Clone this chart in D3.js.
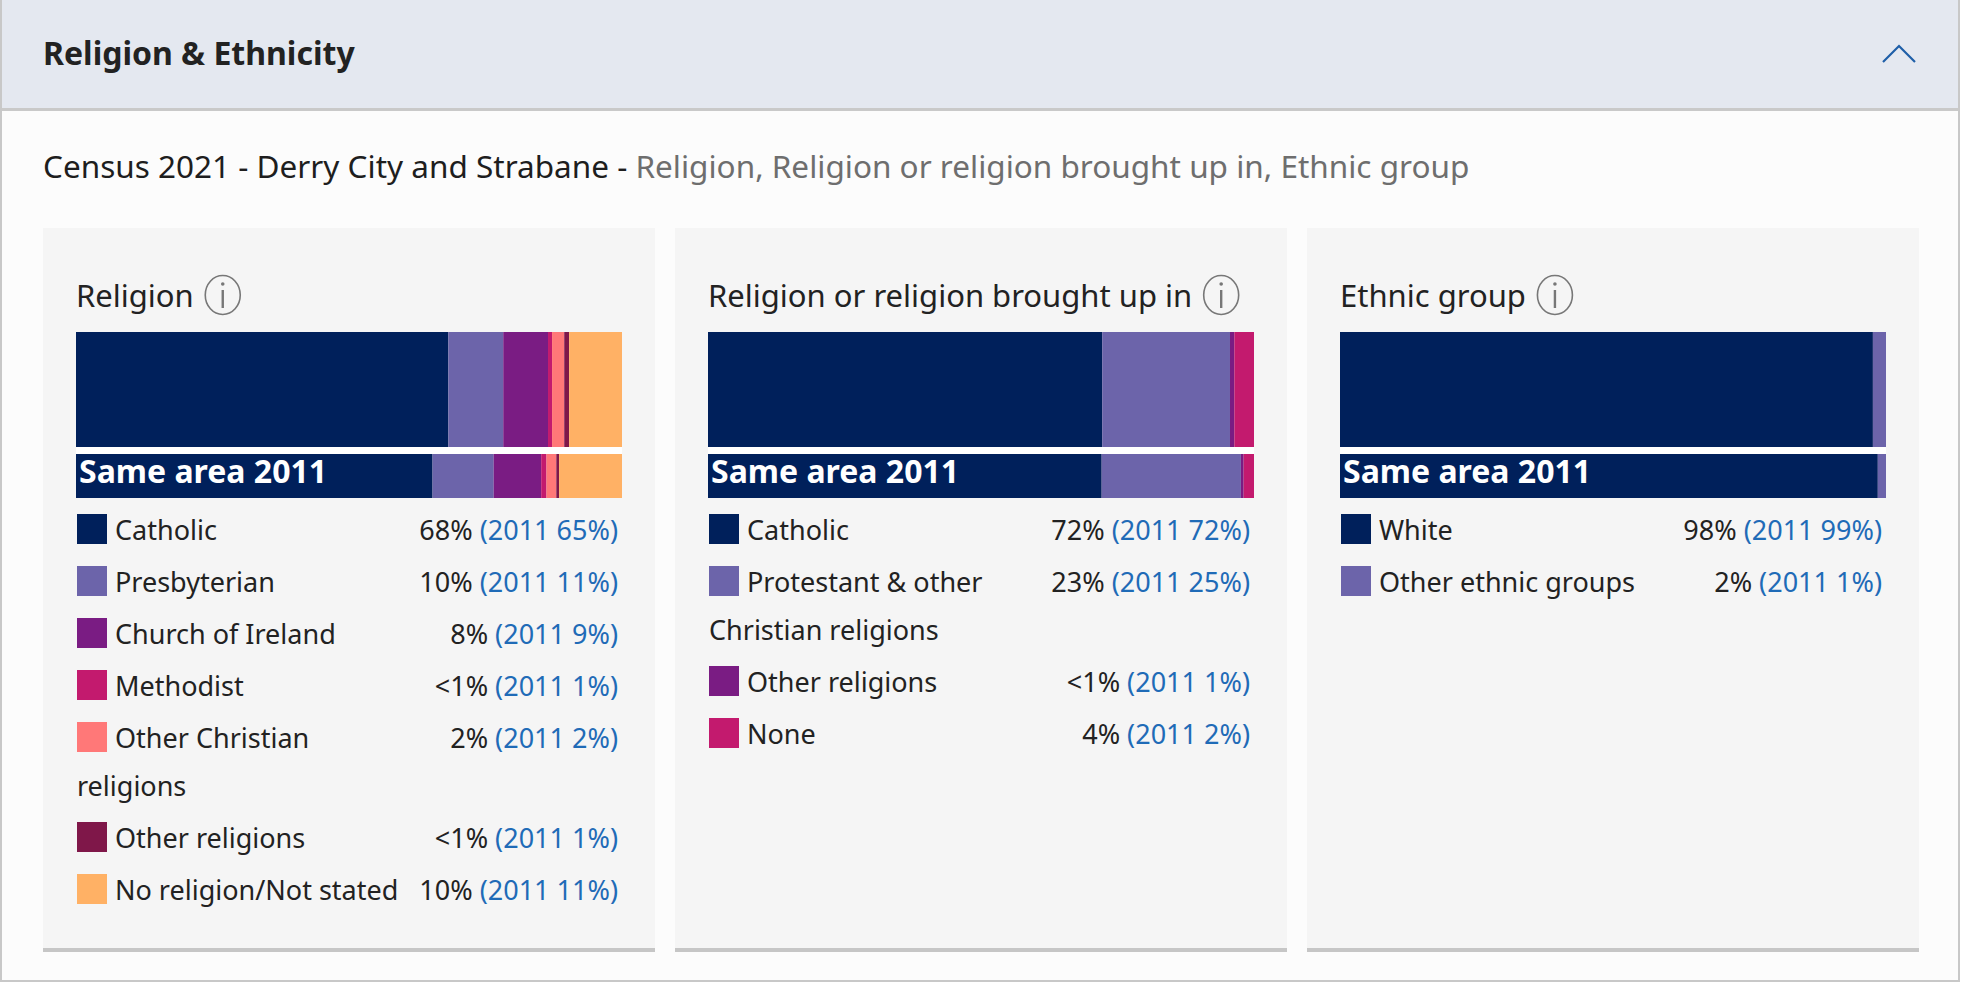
<!DOCTYPE html>
<html>
<head>
<meta charset="utf-8">
<script src="https://cdn.jsdelivr.net/npm/d3@7"></script>
<style>
  html, body { margin: 0; padding: 0; background: #ffffff; }
  svg { display: block; font-family: "Noto Sans", "Open Sans", sans-serif; }
</style>
</head>
<body>
<div id="chart"></div>
<script>
// ---- data ----
const sectionTitle = 'Religion & Ethnicity'
const subtitleMain = 'Census 2021 - Derry City and Strabane - '
const subtitleTopics = 'Religion, Religion or religion brought up in, Ethnic group'
const compareLabel = 'Same area 2011'

const panelTitles = ['Religion', 'Religion or religion brought up in', 'Ethnic group']

const religionCats = ['Catholic', 'Presbyterian', 'Church of Ireland', 'Methodist', 'Other Christian religions', 'Other religions', 'No religion/Not stated']
const religion2021 = [68.2, 10.05, 8.2, 0.74, 2.23, 0.89, 9.69]
const religion2011 = [65.3, 11.2, 8.7, 0.97, 1.8, 0.5, 11.53]
const religionText2021 = ['68%', '10%', '8%', '<1%', '2%', '<1%', '10%']
const religionText2011 = ['65%', '11%', '9%', '1%', '2%', '1%', '11%']

const broughtUpCats = ['Catholic', 'Protestant & other Christian religions', 'Other religions', 'None']
const broughtUp2021 = [72.2, 23.4, 0.8, 3.6]
const broughtUp2011 = [72.1, 25.5, 0.5, 1.9]
const broughtUpText2021 = ['72%', '23%', '<1%', '4%']
const broughtUpText2011 = ['72%', '25%', '1%', '2%']

const ethnicCats = ['White', 'Other ethnic groups']
const ethnic2021 = [97.6, 2.4]
const ethnic2011 = [98.5, 1.5]
const ethnicText2021 = ['98%', '2%']
const ethnicText2011 = ['99%', '1%']

const religionColors = ['#00205b', '#6c64aa', '#7a1c83', '#c31a6e', '#ff7878', '#7f1749', '#ffb165']
const broughtUpColors = ['#00205b', '#6c64aa', '#7a1c83', '#c31a6e']
const ethnicColors = ['#00205b', '#6c64aa']

// ---- layout ----
const config = {
  width: 1962,
  height: 982,
  headerH: 109,
  panelX: [43, 675, 1307],
  panelW: 612,
  panelTop: 228,
  panelBottom: 948,
  inset: 33,
  bar1Top: 332,
  bar1H: 115,
  bar2Top: 454,
  bar2H: 44,
  legendTop: 514,
  swatch: 30,
  rowStep: 52,
  lineStep: 48,
  fontSize: 27
}

const svg = d3.select('#chart')
  .append('svg')
  .attr('width', config.width)
  .attr('height', config.height)

// 外框和背景
svg.append('rect')
  .attr('x', 0).attr('y', 0)
  .attr('width', 1960).attr('height', 981)
  .attr('fill', '#fcfcfc')
svg.append('rect')
  .attr('x', 0).attr('y', 0)
  .attr('width', 1960).attr('height', config.headerH)
  .attr('fill', '#e4e8f0')
svg.append('rect')
  .attr('x', 0).attr('y', config.headerH - 1)
  .attr('width', 1960).attr('height', 3)
  .attr('fill', '#c9c9c9')
svg.append('path')
  .attr('d', 'M1,0 V981 H1959 V0')
  .attr('fill', 'none')
  .attr('stroke', '#c8c8c8')
  .attr('stroke-width', 2)

// 标题
svg.append('text')
  .attr('x', 43).attr('y', 65)
  .attr('font-size', 32)
  .attr('font-weight', 700)
  .attr('fill', '#222')
  .text(sectionTitle)

// 折叠箭头
svg.append('polyline')
  .attr('points', '1883,62 1899,46 1915,62')
  .attr('fill', 'none')
  .attr('stroke', '#1f5fa8')
  .attr('stroke-width', 2.2)

const sub = svg.append('text')
  .attr('x', 43).attr('y', 178)
  .attr('font-size', 31.5)
sub.append('tspan').attr('fill', '#1e1e1e').text(subtitleMain)
sub.append('tspan').attr('fill', '#6e6e6e').text(subtitleTopics)

const panels = [
  { title: panelTitles[0], cats: religionCats, now: religion2021, then: religion2011, nowText: religionText2021, thenText: religionText2011, colors: religionColors },
  { title: panelTitles[1], cats: broughtUpCats, now: broughtUp2021, then: broughtUp2011, nowText: broughtUpText2021, thenText: broughtUpText2011, colors: broughtUpColors },
  { title: panelTitles[2], cats: ethnicCats, now: ethnic2021, then: ethnic2011, nowText: ethnicText2021, thenText: ethnicText2011, colors: ethnicColors }
]

panels.forEach((p, i) => drawPanel(p, config.panelX[i]))

function drawPanel (p, px) {
  const g = svg.append('g')
  const left = px + config.inset
  const right = px + config.panelW - config.inset
  const x = d3.scaleLinear().domain([0, 100]).range([left, right])
  const color = d3.scaleOrdinal().domain(p.cats).range(p.colors)

  // 面板背景 + 底边
  g.append('rect')
    .attr('x', px).attr('y', config.panelTop)
    .attr('width', config.panelW).attr('height', config.panelBottom - config.panelTop)
    .attr('fill', '#f5f5f5')
  g.append('rect')
    .attr('x', px).attr('y', config.panelBottom)
    .attr('width', config.panelW).attr('height', 4)
    .attr('fill', '#c6c6c6')

  // 面板标题和信息图标
  const title = g.append('text')
    .attr('x', left).attr('y', 307)
    .attr('font-size', 31)
    .attr('fill', '#222')
    .text(p.title)
  const tEnd = left + title.node().getComputedTextLength()
  const cx = tEnd + 29
  g.append('ellipse')
    .attr('cx', cx).attr('cy', 295)
    .attr('rx', 17.5).attr('ry', 19.5)
    .attr('fill', 'none')
    .attr('stroke', '#777')
    .attr('stroke-width', 1.6)
  g.append('circle')
    .attr('cx', cx).attr('cy', 284)
    .attr('r', 1.8)
    .attr('fill', '#777')
  g.append('line')
    .attr('x1', cx).attr('x2', cx)
    .attr('y1', 290).attr('y2', 308)
    .attr('stroke', '#777')
    .attr('stroke-width', 2.4)

  // 堆叠条
  const stackRows = (vals) => {
    let acc = 0
    return vals.map((v, k) => {
      const d = { cat: p.cats[k], x0: acc, x1: acc + v }
      acc += v
      return d
    })
  }

  g.append('rect')
    .attr('x', x(0)).attr('y', config.bar1Top + config.bar1H)
    .attr('width', x(100) - x(0)).attr('height', config.bar2Top - config.bar1Top - config.bar1H)
    .attr('fill', '#ffffff')

  g.append('g').selectAll('rect')
    .data(stackRows(p.now))
    .join('rect')
    .attr('x', d => x(d.x0))
    .attr('width', d => x(d.x1) - x(d.x0))
    .attr('y', config.bar1Top)
    .attr('height', config.bar1H)
    .attr('fill', d => color(d.cat))

  g.append('g').selectAll('rect')
    .data(stackRows(p.then))
    .join('rect')
    .attr('x', d => x(d.x0))
    .attr('width', d => x(d.x1) - x(d.x0))
    .attr('y', config.bar2Top)
    .attr('height', config.bar2H)
    .attr('fill', d => color(d.cat))

  g.append('text')
    .attr('x', left + 3).attr('y', config.bar2Top + 29)
    .attr('font-size', 32)
    .attr('font-weight', 700)
    .attr('fill', '#fff')
    .text(compareLabel)

  // 图例
  const labelX = left + 1 + config.swatch + 8
  const labelLimit = left + (right - left) * 0.61
  let rowTop = config.legendTop
  p.cats.forEach((cat, k) => {
    const row = g.append('g')
    row.append('rect')
      .attr('x', left + 1).attr('y', rowTop)
      .attr('width', config.swatch).attr('height', config.swatch)
      .attr('fill', color(cat))

    const base = rowTop + 26
    const val = row.append('text')
      .attr('x', right - 4).attr('y', base)
      .attr('text-anchor', 'end')
      .attr('font-size', config.fontSize)
    val.append('tspan').attr('fill', '#222').text(p.nowText[k] + ' ')
    val.append('tspan').attr('fill', '#1f6bb7').text('(2011 ' + p.thenText[k] + ')')

    // 标签换行：放不下的词放到下一行（从色块下方开始）
    const words = cat.split(' ')
    const lines = []
    let line = []
    let lineX = labelX
    const probe = row.append('text').attr('font-size', config.fontSize)
    words.forEach(w => {
      const test = line.concat(w).join(' ')
      probe.text(test)
      if (line.length && lineX + probe.node().getComputedTextLength() > labelLimit) {
        lines.push({ x: lineX, text: line.join(' ') })
        line = [w]
        lineX = left + 1
      } else {
        line.push(w)
      }
    })
    lines.push({ x: lineX, text: line.join(' ') })
    probe.remove()

    lines.forEach((l, j) => {
      row.append('text')
        .attr('x', l.x).attr('y', base + j * config.lineStep)
        .attr('font-size', config.fontSize)
        .attr('fill', '#222')
        .text(l.text)
    })
    rowTop += config.rowStep + (lines.length - 1) * config.lineStep
  })
}
</script>
</body>
</html>
